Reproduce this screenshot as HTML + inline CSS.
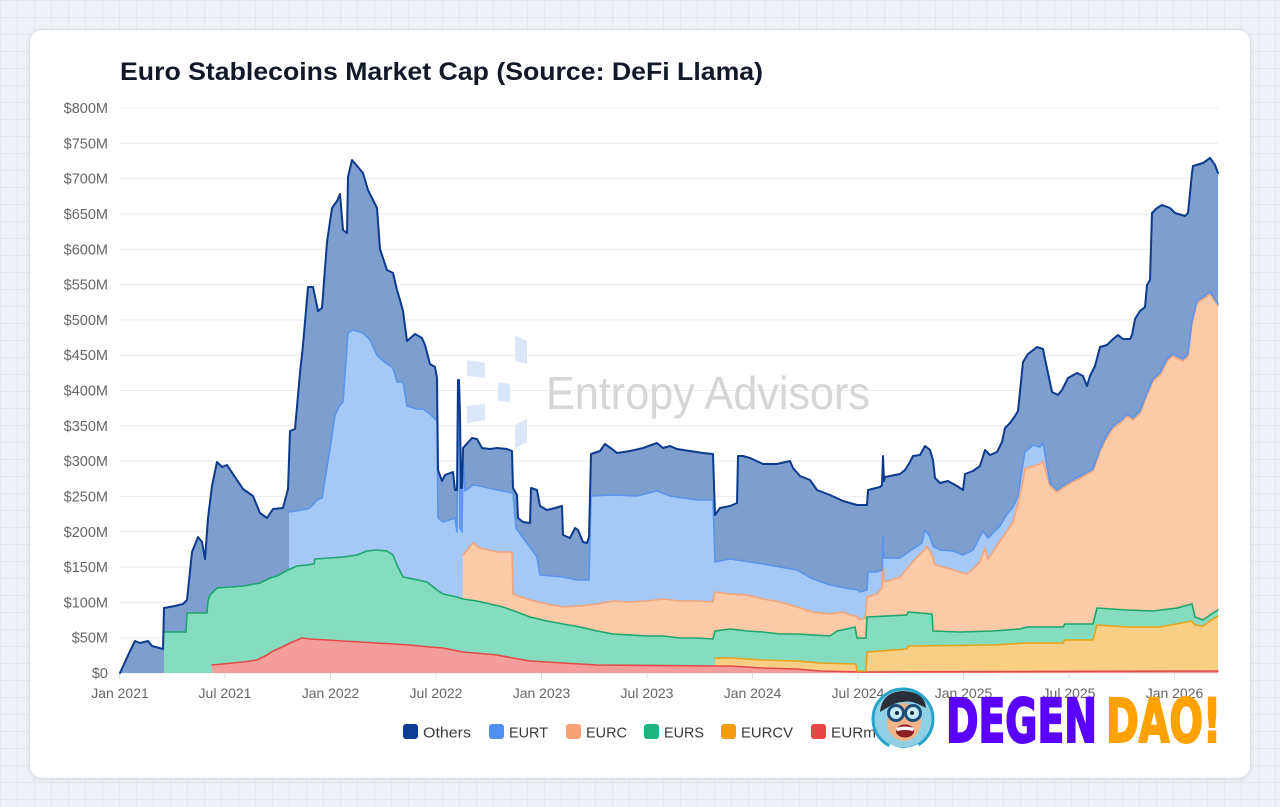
<!DOCTYPE html>
<html>
<head>
<meta charset="utf-8">
<style>
  html,body{margin:0;padding:0;}
  body{width:1280px;height:807px;overflow:hidden;position:relative;
    background-color:#eef1f6;
    background-image:
      linear-gradient(rgba(205,213,226,0.35) 1px, transparent 1px),
      linear-gradient(90deg, rgba(205,213,226,0.35) 1px, transparent 1px);
    background-size:17px 17px;
    font-family:"Liberation Sans", sans-serif;}
  .card{position:absolute;left:30px;top:30px;width:1220px;height:748px;background:#fff;border-radius:12px;
    box-shadow:0 1px 6px rgba(30,40,60,0.10), 0 0 0 1px rgba(220,225,235,0.6);}
  svg{position:absolute;left:0;top:0;}
</style>
</head>
<body>
<div class="card"></div>
<svg width="1280" height="807" viewBox="0 0 1280 807" xmlns="http://www.w3.org/2000/svg">
  <!-- Title -->
  <text x="120" y="80" font-family="Liberation Sans, sans-serif" font-weight="bold" font-size="25" fill="#111827" textLength="643" lengthAdjust="spacingAndGlyphs">Euro Stablecoins Market Cap (Source: DeFi Llama)</text>

  <!-- Gridlines -->
  <g stroke="#ececec" stroke-width="1">
    <line x1="119" y1="108" x2="1218" y2="108"/>
    <line x1="119" y1="143.3" x2="1218" y2="143.3"/>
    <line x1="119" y1="178.6" x2="1218" y2="178.6"/>
    <line x1="119" y1="213.9" x2="1218" y2="213.9"/>
    <line x1="119" y1="249.3" x2="1218" y2="249.3"/>
    <line x1="119" y1="284.6" x2="1218" y2="284.6"/>
    <line x1="119" y1="319.9" x2="1218" y2="319.9"/>
    <line x1="119" y1="355.2" x2="1218" y2="355.2"/>
    <line x1="119" y1="390.5" x2="1218" y2="390.5"/>
    <line x1="119" y1="425.8" x2="1218" y2="425.8"/>
    <line x1="119" y1="461.1" x2="1218" y2="461.1"/>
    <line x1="119" y1="496.4" x2="1218" y2="496.4"/>
    <line x1="119" y1="531.8" x2="1218" y2="531.8"/>
    <line x1="119" y1="567.1" x2="1218" y2="567.1"/>
    <line x1="119" y1="602.4" x2="1218" y2="602.4"/>
    <line x1="119" y1="637.7" x2="1218" y2="637.7"/>
    <line x1="119" y1="673" x2="1218" y2="673"/>
  </g>
  <g stroke="#dddddd" stroke-width="1">
    <line x1="119.5" y1="673" x2="119.5" y2="679"/>
    <line x1="225" y1="673" x2="225" y2="679"/>
    <line x1="330.5" y1="673" x2="330.5" y2="679"/>
    <line x1="436" y1="673" x2="436" y2="679"/>
    <line x1="541.5" y1="673" x2="541.5" y2="679"/>
    <line x1="647" y1="673" x2="647" y2="679"/>
    <line x1="752.5" y1="673" x2="752.5" y2="679"/>
    <line x1="858" y1="673" x2="858" y2="679"/>
    <line x1="963.5" y1="673" x2="963.5" y2="679"/>
    <line x1="1069" y1="673" x2="1069" y2="679"/>
    <line x1="1174.5" y1="673" x2="1174.5" y2="679"/>
  </g>

  <!-- Y labels -->
  <g font-family="Liberation Sans, sans-serif" font-size="14.5" fill="#666666" text-anchor="end">
    <text x="108" y="113">$800M</text>
    <text x="108" y="148.3">$750M</text>
    <text x="108" y="183.6">$700M</text>
    <text x="108" y="218.9">$650M</text>
    <text x="108" y="254.3">$600M</text>
    <text x="108" y="289.6">$550M</text>
    <text x="108" y="324.9">$500M</text>
    <text x="108" y="360.2">$450M</text>
    <text x="108" y="395.5">$400M</text>
    <text x="108" y="430.8">$350M</text>
    <text x="108" y="466.1">$300M</text>
    <text x="108" y="501.4">$250M</text>
    <text x="108" y="536.8">$200M</text>
    <text x="108" y="572.1">$150M</text>
    <text x="108" y="607.4">$100M</text>
    <text x="108" y="642.7">$50M</text>
    <text x="108" y="678">$0</text>
  </g>

  <!-- Watermark -->
  <g fill="#dbe6f8">
    <polygon points="515,335 527,341 527,364 515,361"/>
    <polygon points="467,360 485,363 485,378 467,376"/>
    <polygon points="498,382 510,384 510,402 498,401"/>
    <polygon points="467,406 485,404 485,420 467,423"/>
    <polygon points="515,425 527,419 527,442 515,448"/>
  </g>
  <text x="546" y="409" font-family="Liberation Sans, sans-serif" font-size="46" fill="#d6d6d6" textLength="324" lengthAdjust="spacingAndGlyphs">Entropy Advisors</text>

  <!-- Areas (painter's order) -->
  <path fill="#7e9ed0" d="M120,673 L120,673 125,662 130,651 135,641 140,643 148,641 152,646 163,649 164,608 175,606 183,604 187,600 192,552 198,537 202,542 205,559 208,518 212,486 217,462 222,467 227,465 233,474 243,489 253,496 260,513 267,518 273,509 283,508 288,489 290,431 295,429 300,373 303,345 308,287 313,287 318,311 322,308 327,242 332,208 337,201 340,194 343,230 347,233 348,177 352,160 358,167 363,173 368,190 377,208 380,249 387,270 393,273 397,290 400,300 403,311 407,341 415,334 422,338 425,345 430,364 435,367 437,378 438,470 442,481 445,475 453,472 455,490 457,490 458,380 459,380 460,414 461,488 462,488 463,448 472,438 477,439 482,448 490,449 497,448 507,449 512,451 513,488 517,495 518,518 523,522 530,523 531,488 537,490 540,506 547,510 555,508 562,506 563,535 570,538 575,528 578,530 583,542 587,543 589,537 591,454 600,451 605,444 612,449 617,453 630,451 643,448 657,443 663,448 670,446 677,449 690,451 703,453 713,454 715,515 720,508 730,506 737,503 738,456 743,456 750,458 763,464 777,464 790,461 793,468 800,476 810,480 817,490 830,495 843,501 857,505 867,505 868,490 880,487 882,485 883,456 884,481 885,477 900,474 905,470 910,462 913,456 920,455 925,446 930,450 933,460 935,478 940,483 948,481 957,486 963,490 965,474 973,471 980,466 985,450 990,455 997,452 1002,442 1005,428 1010,423 1015,416 1018,411 1023,362 1028,354 1037,347 1043,349 1045,359 1048,373 1052,392 1058,395 1062,390 1068,378 1077,373 1083,376 1087,386 1090,376 1095,366 1100,347 1107,345 1113,339 1118,335 1123,339 1130,339 1132,335 1135,319 1140,311 1145,307 1147,285 1150,280 1152,213 1157,208 1162,205 1170,208 1175,213 1185,216 1188,213 1192,173 1193,166 1203,163 1210,158 1215,165 1218,173 L1218,673 Z"/>

  <path fill="#a6c8f6" d="M289,673 L289,512 296,511 307,509 310,508 317,500 322,498 330,449 335,415 340,405 343,402 348,333 353,330 363,333 370,340 377,355 383,361 393,368 397,382 403,382 407,406 417,409 423,409 430,414 437,421 438,518 443,522 455,518 457,532 458,404 459,404 460,528 462,532 463,454 465,491 473,485 480,486 497,490 513,493 516,528 537,557 540,575 563,577 577,580 589,580 591,496 613,495 637,496 657,491 670,496 697,500 713,500 715,562 730,559 763,564 797,570 813,579 830,585 850,589 858,590 860,592 867,590 868,572 877,572 882,570 883,536 884,558 885,558 900,558 910,551 922,543 925,530 930,537 933,546 940,550 953,551 963,555 973,550 983,531 988,538 1000,526 1007,514 1013,507 1018,496 1022,469 1025,452 1033,445 1040,447 1043,443 1047,466 1050,483 1057,490 1067,483 1080,476 1093,469 1100,449 1107,435 1113,426 1120,421 1127,414 1133,418 1140,411 1147,393 1153,379 1160,373 1167,359 1173,354 1183,359 1188,354 1192,321 1197,301 1203,297 1210,292 1215,299 1218,304 L1218,673 Z"/>

  <path fill="#fccaa8" d="M462,673 L463,555 473,543 480,548 497,552 512,552 513,594 530,600 547,604 563,607 580,606 597,604 613,601 630,602 647,601 663,599 680,601 697,601 713,602 715,592 730,594 747,595 763,599 780,602 797,607 813,612 830,614 843,612 853,616 857,616 858,619 865,619 867,597 877,594 882,588 883,560 884,580 885,582 900,577 910,565 923,551 927,546 932,555 935,565 947,568 960,572 967,574 973,569 980,562 985,548 988,559 1000,541 1007,531 1013,522 1018,503 1022,486 1025,469 1033,466 1040,464 1043,461 1047,476 1050,486 1057,492 1067,485 1080,478 1093,471 1100,451 1107,437 1113,428 1120,423 1127,416 1133,420 1140,413 1147,395 1153,381 1160,375 1167,361 1173,356 1183,361 1188,356 1192,323 1197,303 1203,299 1210,294 1215,301 1218,306 L1218,673 Z"/>

  <path fill="#86dcbe" d="M164,673 L164,632 186,632 187,613 207,613 208,601 210,595 217,588 243,586 260,583 270,578 277,576 288,570 297,566 307,565 314,564 315,559 330,558 343,557 357,555 367,551 377,550 387,551 393,555 397,565 403,577 413,579 427,582 437,590 443,594 457,597 463,599 477,601 490,604 503,607 517,612 530,617 547,621 563,624 580,627 597,631 613,634 630,635 647,636 663,636 680,638 697,638 713,639 715,631 730,629 747,631 763,632 780,634 797,634 813,635 830,636 837,631 847,629 855,627 857,638 866,638 867,617 907,615 908,612 932,614 933,631 960,632 993,631 1020,629 1027,627 1063,627 1065,624 1093,624 1097,608 1127,610 1153,611 1177,608 1192,604 1195,617 1203,620 1213,613 1218,610 L1218,673 Z"/>

  <path fill="#f8cf84" d="M715,673 L715,658 730,658 763,660 797,661 820,663 853,664 856,664 857,671 866,671 867,652 907,649 908,646 993,645 1027,643 1063,643 1065,640 1093,640 1097,625 1127,627 1160,627 1192,621 1195,625 1203,626 1213,619 1218,616 L1218,673 Z"/>

  <path fill="#f59d9b" d="M212,673 L212,665 243,662 257,660 267,655 273,651 280,648 290,643 297,640 302,638 310,639 327,640 343,641 377,643 410,645 430,647 443,648 463,652 497,655 513,658 530,661 563,663 597,665 713,666 730,666 763,668 797,669 820,671 863,672 1218,671 L1218,673 Z"/>

  <!-- Lines -->
  <g fill="none" stroke-linejoin="round" stroke-linecap="round">
    <polyline stroke="#e24a4a" stroke-width="1.6" points="212,665 243,662 257,660 267,655 273,651 280,648 290,643 297,640 302,638 310,639 327,640 343,641 377,643 410,645 430,647 443,648 463,652 497,655 513,658 530,661 563,663 597,665 713,666 730,666 763,668 797,669 820,671 863,672 1218,671"/>
    <polyline stroke="#eaa11c" stroke-width="1.6" points="715,658 730,658 763,660 797,661 820,663 853,664 856,664 857,671 866,671 867,652 907,649 908,646 993,645 1027,643 1063,643 1065,640 1093,640 1097,625 1127,627 1160,627 1192,621 1195,625 1203,626 1213,619 1218,616"/>
    <polyline stroke="#1ca56c" stroke-width="1.6" points="164,632 186,632 187,613 207,613 208,601 210,595 217,588 243,586 260,583 270,578 277,576 288,570 297,566 307,565 314,564 315,559 330,558 343,557 357,555 367,551 377,550 387,551 393,555 397,565 403,577 413,579 427,582 437,590 443,594 457,597 463,599 477,601 490,604 503,607 517,612 530,617 547,621 563,624 580,627 597,631 613,634 630,635 647,636 663,636 680,638 697,638 713,639 715,631 730,629 747,631 763,632 780,634 797,634 813,635 830,636 837,631 847,629 855,627 857,638 866,638 867,617 907,615 908,612 932,614 933,631 960,632 993,631 1020,629 1027,627 1063,627 1065,624 1093,624 1097,608 1127,610 1153,611 1177,608 1192,604 1195,617 1203,620 1213,613 1218,610"/>
    <polyline stroke="#f4a478" stroke-width="1.6" points="463,555 473,543 480,548 497,552 512,552 513,594 530,600 547,604 563,607 580,606 597,604 613,601 630,602 647,601 663,599 680,601 697,601 713,602 715,592 730,594 747,595 763,599 780,602 797,607 813,612 830,614 843,612 853,616 857,616 858,619 865,619 867,597 877,594 882,588 883,560 884,580 885,582 900,577 910,565 923,551 927,546 932,555 935,565 947,568 960,572 967,574 973,569 980,562 985,548 988,559 1000,541 1007,531 1013,522 1018,503 1022,486 1025,469 1033,466 1040,464 1043,461 1047,476 1050,486 1057,492 1067,485 1080,478 1093,471 1100,451 1107,437 1113,428 1120,423 1127,416 1133,420 1140,413 1147,395 1153,381 1160,375 1167,361 1173,356 1183,361 1188,356 1192,323 1197,303 1203,299 1210,294 1215,301 1218,306"/>
    <polyline stroke="#5b94ea" stroke-width="1.6" points="289,512 296,511 307,509 310,508 317,500 322,498 330,449 335,415 340,405 343,402 348,333 353,330 363,333 370,340 377,355 383,361 393,368 397,382 403,382 407,406 417,409 423,409 430,414 437,421 438,518 443,522 455,518 457,532 458,404 459,404 460,528 462,532 463,454 465,491 473,485 480,486 497,490 513,493 516,528 537,557 540,575 563,577 577,580 589,580 591,496 613,495 637,496 657,491 670,496 697,500 713,500 715,562 730,559 763,564 797,570 813,579 830,585 850,589 858,590 860,592 867,590 868,572 877,572 882,570 883,536 884,558 885,558 900,558 910,551 922,543 925,530 930,537 933,546 940,550 953,551 963,555 973,550 983,531 988,538 1000,526 1007,514 1013,507 1018,496 1022,469 1025,452 1033,445 1040,447 1043,443 1047,466 1050,483 1057,490 1067,483 1080,476 1093,469 1100,449 1107,435 1113,426 1120,421 1127,414 1133,418 1140,411 1147,393 1153,379 1160,373 1167,359 1173,354 1183,359 1188,354 1192,321 1197,301 1203,297 1210,292 1215,299 1218,304"/>
    <polyline stroke="#0c3a8c" stroke-width="2" points="120,673 125,662 130,651 135,641 140,643 148,641 152,646 163,649 164,608 175,606 183,604 187,600 192,552 198,537 202,542 205,559 208,518 212,486 217,462 222,467 227,465 233,474 243,489 253,496 260,513 267,518 273,509 283,508 288,489 290,431 295,429 300,373 303,345 308,287 313,287 318,311 322,308 327,242 332,208 337,201 340,194 343,230 347,233 348,177 352,160 358,167 363,173 368,190 377,208 380,249 387,270 393,273 397,290 400,300 403,311 407,341 415,334 422,338 425,345 430,364 435,367 437,378 438,470 442,481 445,475 453,472 455,490 457,490 458,380 459,380 460,414 461,488 462,488 463,448 472,438 477,439 482,448 490,449 497,448 507,449 512,451 513,488 517,495 518,518 523,522 530,523 531,488 537,490 540,506 547,510 555,508 562,506 563,535 570,538 575,528 578,530 583,542 587,543 589,537 591,454 600,451 605,444 612,449 617,453 630,451 643,448 657,443 663,448 670,446 677,449 690,451 703,453 713,454 715,515 720,508 730,506 737,503 738,456 743,456 750,458 763,464 777,464 790,461 793,468 800,476 810,480 817,490 830,495 843,501 857,505 867,505 868,490 880,487 882,485 883,456 884,481 885,477 900,474 905,470 910,462 913,456 920,455 925,446 930,450 933,460 935,478 940,483 948,481 957,486 963,490 965,474 973,471 980,466 985,450 990,455 997,452 1002,442 1005,428 1010,423 1015,416 1018,411 1023,362 1028,354 1037,347 1043,349 1045,359 1048,373 1052,392 1058,395 1062,390 1068,378 1077,373 1083,376 1087,386 1090,376 1095,366 1100,347 1107,345 1113,339 1118,335 1123,339 1130,339 1132,335 1135,319 1140,311 1145,307 1147,285 1150,280 1152,213 1157,208 1162,205 1170,208 1175,213 1185,216 1188,213 1192,173 1193,166 1203,163 1210,158 1215,165 1218,173"/>
  </g>

  <!-- X labels -->
  <g font-family="Liberation Sans, sans-serif" font-size="14" fill="#666666" text-anchor="middle">
    <text x="120" y="698">Jan 2021</text>
    <text x="225" y="698">Jul 2021</text>
    <text x="330.5" y="698">Jan 2022</text>
    <text x="436" y="698">Jul 2022</text>
    <text x="541.5" y="698">Jan 2023</text>
    <text x="647" y="698">Jul 2023</text>
    <text x="752.5" y="698">Jan 2024</text>
    <text x="858" y="698">Jul 2024</text>
    <text x="963.5" y="698">Jan 2025</text>
    <text x="1069" y="698">Jul 2025</text>
    <text x="1174.5" y="698">Jan 2026</text>
  </g>

  <!-- Legend -->
  <g font-family="Liberation Sans, sans-serif" font-size="15" fill="#3a3a3a">
    <rect x="403" y="724" width="15" height="15" rx="3" fill="#0d3c94"/>
    <text x="423" y="737.5" textLength="48" lengthAdjust="spacingAndGlyphs">Others</text>
    <rect x="489" y="724" width="15" height="15" rx="3" fill="#4f8ff0"/>
    <text x="509" y="737.5" textLength="39" lengthAdjust="spacingAndGlyphs">EURT</text>
    <rect x="566" y="724" width="15" height="15" rx="3" fill="#f9a274"/>
    <text x="586" y="737.5" textLength="41" lengthAdjust="spacingAndGlyphs">EURC</text>
    <rect x="644" y="724" width="15" height="15" rx="3" fill="#1db57f"/>
    <text x="664" y="737.5" textLength="40" lengthAdjust="spacingAndGlyphs">EURS</text>
    <rect x="721" y="724" width="15" height="15" rx="3" fill="#f39c12"/>
    <text x="741" y="737.5" textLength="52" lengthAdjust="spacingAndGlyphs">EURCV</text>
    <rect x="811" y="724" width="15" height="15" rx="3" fill="#e74444"/>
    <text x="831" y="737.5" textLength="45" lengthAdjust="spacingAndGlyphs">EURm</text>
  </g>

  <!-- DegenDAO badge -->
  <g>
    <circle cx="903" cy="719" r="30" fill="#8fd0e4" stroke="#2aa3c8" stroke-width="3"/>
    <path d="M880,712 Q882,692 903,691 Q925,692 926,708 L918,704 Q905,698 890,706 Z" fill="#2b2f3a"/>
    <ellipse cx="904" cy="722" rx="17" ry="19" fill="#f1b48a"/>
    <path d="M884,706 Q890,694 904,695 Q918,696 922,706 Q912,700 903,702 Q893,702 884,706 Z" fill="#2b2f3a"/>
    <circle cx="896" cy="713" r="7.5" fill="#c7ecf8" stroke="#1d4f7a" stroke-width="3"/>
    <circle cx="913" cy="713" r="7.5" fill="#c7ecf8" stroke="#1d4f7a" stroke-width="3"/>
    <circle cx="897" cy="713" r="2" fill="#1d2a3a"/>
    <circle cx="912" cy="713" r="2" fill="#1d2a3a"/>
    <ellipse cx="905" cy="731" rx="9" ry="6.5" fill="#8a1f22"/>
    <path d="M896,728 Q905,725 914,728 L913,731 Q905,729 897,731 Z" fill="#ffffff"/>
    <path d="M890,744 Q903,752 918,744 L920,749 Q903,756 888,749 Z" fill="#ffffff"/>
  </g>
  <text x="946" y="742" font-family="Liberation Sans Narrow, DejaVu Sans Condensed, Liberation Sans, sans-serif" font-weight="bold" font-size="61" fill="#5a00ff" stroke="#5a00ff" stroke-width="2" textLength="151" lengthAdjust="spacingAndGlyphs">DEGEN</text>
  <text x="1106" y="742" font-family="Liberation Sans Narrow, DejaVu Sans Condensed, Liberation Sans, sans-serif" font-weight="bold" font-size="61" fill="#ffa200" stroke="#ffa200" stroke-width="2" textLength="115" lengthAdjust="spacingAndGlyphs">DAO!</text>
</svg>
</body>
</html>
